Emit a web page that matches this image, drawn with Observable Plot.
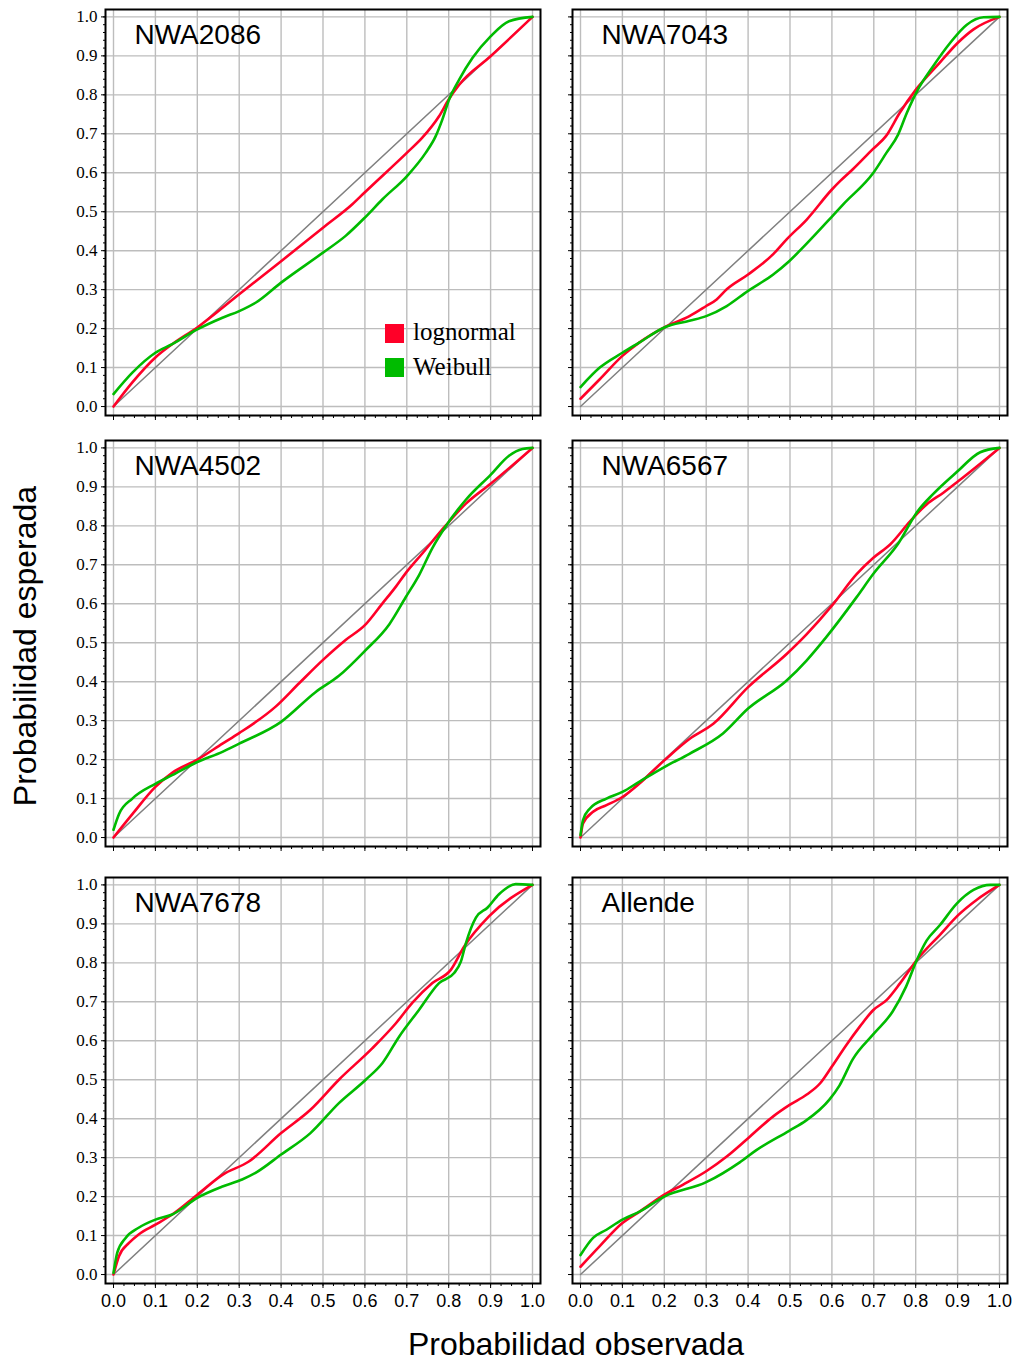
<!DOCTYPE html>
<html>
<head>
<meta charset="utf-8">
<script src="https://cdn.jsdelivr.net/npm/d3@7"></script>
<script src="https://cdn.jsdelivr.net/npm/@observablehq/plot@0.6"></script>
<style>
  html, body { margin: 0; padding: 0; background: #fff; }
  #root { position: relative; width: 1016px; height: 1361px; background: #fff; overflow: hidden; }
  .panel { position: absolute; }
  .lab { position: absolute; font-family: "Liberation Sans", Arial, sans-serif; color: #000; white-space: nowrap; }
  .leg { position: absolute; font-family: "Liberation Serif", "Times New Roman", serif; font-size: 25px; line-height: 25px; color: #000; white-space: nowrap; }
  .sw { position: absolute; width: 19px; height: 19px; }
</style>
</head>
<body>
<div id="root"></div>
<script>
// ---- data (observed probability, expected probability) ----
const panelNames = ["NWA2086", "NWA7043", "NWA4502", "NWA6567", "NWA7678", "Allende"];
const seriesNames = ["lognormal", "Weibull"];
const seriesColors = ["#ff0028", "#00bb00"];

const NWA2086_lognormal = [[0,0],[0.045,0.062],[0.1,0.126],[0.14,0.16],[0.2,0.203],[0.3,0.288],[0.4,0.373],[0.5,0.459],[0.57,0.519],[0.6,0.55],[0.7,0.651],[0.737,0.69],[0.777,0.745],[0.8,0.788],[0.825,0.826],[0.9,0.899],[1,1]];
const NWA2086_weibull = [[0,0.032],[0.045,0.087],[0.1,0.138],[0.14,0.16],[0.2,0.198],[0.26,0.228],[0.3,0.245],[0.34,0.267],[0.4,0.318],[0.5,0.395],[0.554,0.438],[0.6,0.485],[0.642,0.532],[0.7,0.591],[0.745,0.651],[0.769,0.694],[0.785,0.737],[0.801,0.788],[0.825,0.839],[0.857,0.895],[0.9,0.95],[0.944,0.989],[1,1]];

const NWA7043_lognormal = [[0,0.02],[0.046,0.07],[0.1,0.13],[0.14,0.164],[0.2,0.203],[0.26,0.232],[0.3,0.258],[0.325,0.275],[0.349,0.301],[0.4,0.339],[0.46,0.391],[0.492,0.429],[0.54,0.48],[0.6,0.557],[0.62,0.579],[0.65,0.609],[0.697,0.66],[0.729,0.694],[0.762,0.754],[0.801,0.814],[0.857,0.882],[0.9,0.933],[0.938,0.968],[1,1]];
const NWA7043_weibull = [[0,0.05],[0.046,0.1],[0.1,0.138],[0.14,0.164],[0.2,0.203],[0.26,0.22],[0.3,0.232],[0.349,0.258],[0.4,0.297],[0.46,0.339],[0.498,0.373],[0.538,0.416],[0.598,0.485],[0.627,0.519],[0.699,0.6],[0.73,0.651],[0.758,0.698],[0.779,0.754],[0.803,0.809],[0.842,0.874],[0.882,0.933],[0.922,0.98],[0.962,0.999],[1,1]];

const NWA4502_lognormal = [[0,0],[0.045,0.06],[0.1,0.13],[0.14,0.166],[0.2,0.2],[0.26,0.241],[0.3,0.268],[0.387,0.336],[0.443,0.396],[0.5,0.456],[0.554,0.507],[0.6,0.545],[0.642,0.601],[0.674,0.644],[0.697,0.678],[0.737,0.729],[0.793,0.801],[0.841,0.857],[0.9,0.908],[1,1]];
const NWA4502_weibull = [[0,0.02],[0.013,0.06],[0.045,0.1],[0.1,0.138],[0.14,0.16],[0.2,0.194],[0.26,0.22],[0.3,0.241],[0.4,0.297],[0.482,0.373],[0.538,0.415],[0.6,0.479],[0.658,0.547],[0.697,0.616],[0.73,0.675],[0.761,0.743],[0.793,0.799],[0.841,0.867],[0.9,0.931],[0.944,0.98],[0.976,0.997],[1,1]];

const NWA6567_lognormal = [[0,0],[0.006,0.036],[0.03,0.066],[0.062,0.083],[0.1,0.104],[0.14,0.138],[0.2,0.198],[0.26,0.253],[0.317,0.292],[0.4,0.386],[0.492,0.471],[0.54,0.522],[0.6,0.595],[0.659,0.676],[0.699,0.718],[0.739,0.752],[0.787,0.812],[0.826,0.855],[0.866,0.885],[0.902,0.915],[1,1]];
const NWA6567_weibull = [[0,0.006],[0.006,0.045],[0.022,0.074],[0.062,0.1],[0.1,0.117],[0.14,0.143],[0.2,0.181],[0.26,0.215],[0.34,0.267],[0.4,0.331],[0.492,0.403],[0.54,0.455],[0.587,0.515],[0.659,0.617],[0.699,0.677],[0.758,0.754],[0.803,0.835],[0.842,0.882],[0.898,0.938],[0.954,0.989],[1,1]];

const NWA7678_lognormal = [[0,0],[0.013,0.047],[0.037,0.081],[0.06,0.103],[0.1,0.128],[0.14,0.154],[0.2,0.205],[0.26,0.256],[0.323,0.29],[0.4,0.363],[0.47,0.423],[0.538,0.5],[0.618,0.581],[0.674,0.645],[0.713,0.697],[0.761,0.748],[0.805,0.782],[0.837,0.842],[0.896,0.919],[1,1]];
const NWA7678_weibull = [[0,0.004],[0.009,0.056],[0.029,0.094],[0.06,0.12],[0.1,0.141],[0.14,0.154],[0.2,0.197],[0.26,0.226],[0.307,0.244],[0.339,0.261],[0.4,0.308],[0.47,0.363],[0.538,0.44],[0.602,0.5],[0.642,0.543],[0.682,0.611],[0.729,0.679],[0.777,0.748],[0.813,0.774],[0.829,0.803],[0.841,0.85],[0.865,0.916],[0.893,0.942],[0.92,0.976],[0.96,1.002],[1,1]];

const Allende_lognormal = [[0,0.02],[0.046,0.073],[0.1,0.132],[0.142,0.162],[0.2,0.205],[0.245,0.231],[0.3,0.265],[0.349,0.303],[0.4,0.35],[0.46,0.406],[0.5,0.436],[0.54,0.462],[0.572,0.491],[0.6,0.534],[0.635,0.59],[0.667,0.637],[0.699,0.679],[0.731,0.705],[0.763,0.748],[0.803,0.808],[0.858,0.872],[0.902,0.923],[0.946,0.962],[1,1]];
const Allende_weibull = [[0,0.05],[0.03,0.094],[0.062,0.115],[0.1,0.141],[0.142,0.162],[0.2,0.2],[0.3,0.237],[0.38,0.288],[0.418,0.318],[0.498,0.369],[0.538,0.395],[0.594,0.449],[0.618,0.485],[0.65,0.553],[0.699,0.617],[0.745,0.675],[0.777,0.739],[0.803,0.808],[0.826,0.857],[0.858,0.897],[0.898,0.952],[0.938,0.987],[0.978,1.0],[1,1]];

const diagonal = [0, 1];
const majorTicks = [0, 0.1, 0.2, 0.3, 0.4, 0.5, 0.6, 0.7, 0.8, 0.9, 1.0];
const minorTicksY = d3.range(0, 51).map(i => i / 50);
const minorTicksX = d3.range(0, 41).map(i => i / 40);

const xLabel = "Probabilidad observada";
const yLabel = "Probabilidad esperada";

const panelSeries = [
  [NWA2086_lognormal, NWA2086_weibull],
  [NWA7043_lognormal, NWA7043_weibull],
  [NWA4502_lognormal, NWA4502_weibull],
  [NWA6567_lognormal, NWA6567_weibull],
  [NWA7678_lognormal, NWA7678_weibull],
  [Allende_lognormal, Allende_weibull]
];

// ---- layout ----
const root = document.getElementById("root");
const frameW = 435, frameH = 406;
const colLeft = [105, 572];
const rowTop = [9, 440, 877];
const mL = 45, mR = 6, mT = 6, mB = 36;

panelNames.forEach((name, i) => {
  const col = i % 2, row = Math.floor(i / 2);
  const showY = col === 0, showX = row === 2;
  const [logn, weib] = panelSeries[i];
  const plot = Plot.plot({
    width: frameW + mL + mR,
    height: frameH + mT + mB,
    marginLeft: mL, marginRight: mR, marginTop: mT, marginBottom: mB,
    x: {domain: [-0.0191, 1.0191]},
    y: {domain: [-0.023, 1.019]},
    style: {background: "transparent", overflow: "visible"},
    marks: [
      Plot.gridX({ticks: majorTicks, stroke: "#bdbdbd", strokeOpacity: 1, strokeWidth: 1.4}),
      Plot.gridY({ticks: majorTicks, stroke: "#bdbdbd", strokeOpacity: 1, strokeWidth: 1.4}),
      Plot.line(diagonal, {x: d => d, y: d => d, stroke: "#808080", strokeWidth: 1.5}),
      Plot.line(logn, {x: d => d[0], y: d => d[1], stroke: seriesColors[0], strokeWidth: 2.6, curve: "monotone-x"}),
      Plot.line(weib, {x: d => d[0], y: d => d[1], stroke: seriesColors[1], strokeWidth: 2.6, curve: "monotone-x"}),
      Plot.frame({stroke: "#000", strokeWidth: 2}),
      Plot.axisY({ticks: minorTicksY, tickSize: 2, fill: "none", label: null, stroke: "#000"}),
      Plot.axisY({ticks: majorTicks, tickSize: 4, tickPadding: 4, label: null, stroke: "#000",
        fill: showY ? "#000" : "none", tickFormat: d => d.toFixed(1),
        fontFamily: "'Liberation Serif', 'Times New Roman', serif", fontSize: 17}),
      Plot.axisX({ticks: minorTicksX, tickSize: 3, fill: "none", label: null, stroke: "#000"}),
      Plot.axisX({ticks: majorTicks, tickSize: 5, tickPadding: 6, label: null, stroke: "#000",
        fill: showX ? "#000" : "none", tickFormat: d => d.toFixed(1),
        fontFamily: "'Liberation Sans', Arial, sans-serif", fontSize: 18}),
      Plot.text([name], {frameAnchor: "top-left", text: d => d, dx: 29, dy: 15, lineAnchor: "top", textAnchor: "start",
        fontSize: 28, fontFamily: "'Liberation Sans', Arial, sans-serif", fill: "#000"})
    ]
  });
  plot.classList.add("panel");
  plot.style.left = (colLeft[col] - mL) + "px";
  plot.style.top = (rowTop[row] - mT) + "px";
  root.appendChild(plot);
});

// legend (panel 1)
seriesNames.forEach((s, i) => {
  const sw = document.createElement("div");
  sw.className = "sw";
  sw.style.background = seriesColors[i];
  sw.style.left = "385px";
  sw.style.top = (324 + i * 34) + "px";
  root.appendChild(sw);
  const t = document.createElement("div");
  t.className = "leg";
  t.textContent = s;
  t.style.left = "413px";
  t.style.top = (319 + i * 35) + "px";
  root.appendChild(t);
});

// axis titles
const xt = document.createElement("div");
xt.className = "lab";
xt.textContent = xLabel;
xt.style.fontSize = "32px";
xt.style.lineHeight = "32px";
xt.style.width = "600px";
xt.style.textAlign = "center";
xt.style.left = (576 - 300) + "px";
xt.style.top = "1328px";
root.appendChild(xt);

const yt = document.createElement("div");
yt.className = "lab";
yt.textContent = yLabel;
yt.style.fontSize = "32px";
yt.style.lineHeight = "32px";
yt.style.width = "600px";
yt.style.textAlign = "center";
yt.style.left = (25 - 300) + "px";
yt.style.top = (646 - 16) + "px";
yt.style.transform = "rotate(-90deg)";
yt.style.transformOrigin = "50% 50%";
root.appendChild(yt);
</script>
</body>
</html>
